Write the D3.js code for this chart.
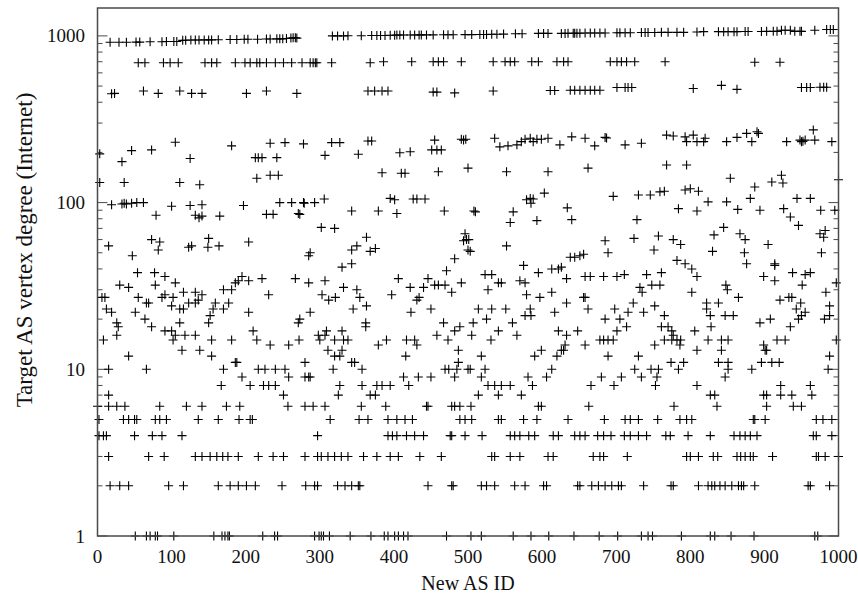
<!DOCTYPE html>
<html>
<head>
<meta charset="utf-8">
<script src="https://d3js.org/d3.v7.min.js"></script>
<style>
  body { margin: 0; background: #fff; }
  svg text { font-family: "Liberation Serif", "Times New Roman", serif; fill: #111; }
</style>
</head>
<body>
<svg id="chart" width="858" height="597"></svg>
<script>
// new AS ids that attached to a target of low integer degree
const deg1 = [51, 66, 71, 78, 81, 103, 157, 168, 172, 176, 178, 223, 239, 243, 293, 299, 302, 305, 313, 341, 369, 387, 392, 401, 406,
  413, 419, 471, 504, 518, 561, 585, 609, 643, 677, 702, 734, 743, 749, 788, 827, 833, 855, 886, 968, 972];
const deg2 = [17, 30, 42, 96, 116, 163, 179, 190, 201, 213, 249, 281, 293, 297, 324, 334, 343, 352, 354,
  446, 478, 480, 518, 525, 536, 563, 577, 602, 606, 648, 651, 667, 676, 685, 694, 703, 707, 737, 774, 777, 811,
  824, 829, 833, 840, 847, 856, 865, 869, 872, 887, 959, 962, 988];
const deg3 = [15, 69, 90, 132, 141, 152, 161, 169, 176, 190, 217, 237, 251, 280, 297, 302, 311, 320, 329, 338, 359, 377, 395, 406,
  435, 464, 532, 536, 557, 570, 608, 615, 669, 678, 683, 715, 795, 800, 811,
  831, 837, 863, 868, 874, 881, 885, 911, 970, 973, 982, 1000];
const deg4 = [2, 8, 12, 50, 74, 87, 114, 297, 392, 398, 404,
  417, 428, 440, 476, 478, 496, 519, 557, 563, 570, 582, 590, 615, 622, 644, 651, 658, 675, 683, 693, 711, 719, 730, 741, 767, 773, 797,
  827, 859, 867, 874, 881, 890, 966, 970, 991];
const deg5 = [2, 35, 42, 50, 53, 78, 84, 93, 136, 163, 191, 206, 209, 314, 353, 365, 392, 404,
  415, 425, 489, 496, 505, 541, 545, 575, 593, 635, 684, 712, 719, 730, 756, 786, 795, 802,
  885, 887, 901, 970, 979, 991];
const deg6 = [0, 15, 26, 37, 84, 120, 141, 174, 192, 257, 280, 291, 307, 356, 389,
  444, 446, 478, 482, 489, 504, 595, 599, 663, 778, 836, 903, 939, 950];
const deg7 = [15, 251, 325, 368, 375, 514, 541, 572, 827, 833, 899, 903, 922, 937, 964];
const deg8 = [167, 206, 224, 231, 240, 327, 357, 377, 384, 395, 420, 527, 536, 545, 557, 587, 666, 697, 753, 809, 922, 962];
const deg9 = [195, 258, 280, 285, 287, 413, 433, 450, 482, 518, 581, 606, 680, 707, 734, 755, 847];

// [new AS id, target degree] for degrees 10 to 60
const lowScatter = [
  [15,55],[84,58],[82,52],[123,54],[127,55],[149,54],[164,55],[204,58],[343,52],[350,55],[375,53],[368,51],[47,48],[287,50],[285,48],[330,41],[343,43],
  [54,38],[77,38],[91,36],[105,33],[30,32],[42,31],[78,32],[195,36],[190,34],[186,33],[181,30],[170,30],[204,34],[222,35],[267,35],[285,33],[307,34],[332,31],[350,30],[406,35],
  [6,27],[10,27],[55,27],[69,25],[66,25],[87,27],[91,28],[102,27],[116,29],[132,29],[141,28],[136,26],[159,25],[177,25],[231,28],[303,28],[312,26],[321,27],[354,27],[363,24],[397,28],
  [12,23],[19,22],[51,22],[64,20],[100,24],[111,23],[116,23],[123,25],[132,25],[156,23],[170,23],[152,21],[204,22],[273,20],[287,22],[271,19],[345,23],[362,19],[362,18],
  [26,19],[28,18],[26,16],[73,18],[91,17],[100,17],[105,16],[111,19],[150,19],[210,17],[309,17],[330,17],[307,16],[298,16],
  [8,15],[102,15],[118,16],[132,16],[154,15],[181,15],[215,15],[233,14],[258,14],[272,15],[300,15],[320,15],[332,15],[338,15],[379,14],[390,15],
  [114,13],[138,13],[154,12],[42,12],[311,13],[330,13],[327,12],[320,12],
  [15,10],[66,10],[170,10],[186,11],[188,11],[217,10],[226,10],[240,10],[253,10],[280,11],[318,10],[343,11],[347,11],[357,10],
  [494,59],[500,52],[503,51],[552,55],[685,59],[689,50],[787,56],[751,52],[482,46],[471,39],[446,35],[460,32],[422,31],[440,31],[455,32],[469,32],[478,29],[491,33],[434,27],[431,26],
  [523,37],[532,37],[541,33],[545,33],[527,30],[575,42],[595,38],[613,40],[622,40],[626,41],[633,35],[638,47],[644,47],[651,48],[656,49],[658,36],[665,36],[683,36],[701,36],[711,37],[741,37],[761,38],[782,45],[793,43],[802,40],[809,36],
  [570,34],[577,33],[579,28],[597,27],[613,29],[633,25],[656,27],[658,27],[662,23],[617,22],[584,23],[577,21],[585,21],[732,31],[735,29],[748,32],[759,32],[802,29],[723,25],[737,22],[716,22],[698,23],[685,20],[705,20],[714,18],[701,17],
  [752,24],[765,21],[761,18],[770,18],[775,17],[777,16],[775,15],[782,15],[786,14],[806,17],
  [423,22],[450,23],[467,19],[458,16],[482,17],[489,18],[507,19],[525,20],[541,17],[560,19],[566,16],[531,15],[514,23],[532,23],[551,23],[505,16],[473,15],[417,15],[428,15],[431,14],
  [622,17],[633,16],[648,17],[658,14],[631,14],[629,13],[678,15],[683,15],[689,15],[696,15],[752,14],[765,15],[787,15],[809,13],
  [416,12],[487,13],[487,11],[518,12],[590,12],[599,13],[620,12],[626,13],[689,12],[730,12],[469,10],[474,10],[485,10],[500,10],[503,10],[523,10],[613,10],[774,11],[791,11],[784,10],[725,10],[747,10],[757,10],
  [905,56],[977,50],[830,51],[873,50],[876,43],[914,43],[914,42],[848,32],[850,30],[865,27],[899,36],[914,34],[938,38],[955,37],[962,38],[951,32],[983,29],[997,33],
  [822,25],[838,25],[822,23],[827,21],[847,21],[858,21],[828,18],[894,19],[908,20],[921,26],[933,27],[937,27],[949,25],[943,23],[955,22],[950,21],[946,20],[981,20],[988,24],[988,21],
  [824,15],[842,15],[851,15],[842,13],[899,14],[901,13],[903,13],[917,15],[928,15],[935,18],[997,15],[838,11],[851,11],[851,10],[883,10],[896,11],[910,11],[920,11],[988,12],[986,10]
];

// [new AS id, target degree] for degrees 60 to 300
const highScatter = [
  [19,97],[33,98],[36,99],[39,98],[46,99],[53,100],[62,100],[100,95],[125,96],[141,97],[197,96],[246,100],[262,100],[278,100],[279,99],[293,100],[306,105],[395,106],[401,104],
  [79,84],[132,84],[137,81],[141,83],[165,83],[228,85],[237,85],[271,86],[273,85],[343,89],[379,89],[404,86],[302,71],[320,70],[73,60],[150,61],[363,62],
  [3,196],[33,176],[46,205],[73,207],[105,230],[125,184],[181,219],[213,186],[217,186],[222,186],[242,186],[233,227],[253,229],[278,225],[307,192],[316,229],[327,229],[352,195],[365,234],[370,234],
  [3,132],[36,132],[111,132],[138,128],[215,140],[233,146],[244,146],[384,151],
  [426,105],[431,105],[442,105],[468,89],[508,89],[510,88],[561,88],[557,76],[579,104],[584,106],[588,105],[585,99],[603,114],[593,78],[634,93],[640,79],[696,109],[730,111],[746,111],
  [759,116],[765,117],[793,119],[800,121],[811,117],[784,92],[809,89],[728,79],[496,65],[498,60],[501,60],[724,61],[757,63],[777,60],
  [408,199],[422,202],[451,207],[458,207],[464,207],[455,237],[491,240],[494,237],[497,240],[536,243],[543,216],[554,219],[566,222],[572,232],[577,240],[584,243],[588,232],[593,240],[599,240],[608,243],
  [624,222],[640,248],[658,243],[671,219],[685,246],[687,244],[712,222],[734,227],[768,254],[777,251],[793,248],[795,232],[804,254],[809,232],
  [410,150],[415,150],[460,153],[500,161],[552,153],[608,153],[662,161],[768,168],[795,168],
  [820,243],[818,232],[849,232],[863,246],[876,260],[883,232],[890,266],[892,260],[930,232],[948,237],[950,232],[952,233],[955,237],[966,273],[968,237],[991,232],
  [854,140],[887,124],[910,133],[923,146],[925,131],[1000,137],
  [824,101],[849,101],[864,91],[881,106],[894,90],[926,92],[944,106],[962,106],[976,90],[995,90],[845,71],[832,64],[867,65],[874,60],[935,82],[946,73],[975,65],[982,68],[980,62]
];

// the three dense hub bands
const band470 = [
  [19,450],[23,452],[62,467],[82,452],[111,467],[127,452],[141,452],[201,452],[228,467],[269,452],[365,467],[374,467],[384,467],[392,467],
  [453,460],[458,460],[482,455],[534,467],[611,470],[617,470],[638,472],[644,472],[651,472],[658,472],[665,472],[671,472],[678,472],
  [701,490],[712,490],[716,490],[721,490],[804,484],[842,505],[863,478],[950,490],[957,490],[962,490],[975,492],[980,492],[984,492]
];
const band700 = [
  [55,690],[64,690],[89,690],[98,690],[109,690],[145,690],[154,690],[161,690],[186,690],[199,690],[206,690],[215,690],[219,690],[228,690],
  [240,690],[251,690],[262,690],[276,690],[287,690],[291,690],[294,690],[296,690],[316,690],[368,690],[386,700],
  [424,700],[453,700],[460,700],[467,700],[491,700],[534,700],[550,700],[557,700],[563,700],[586,700],[595,700],[620,700],[629,700],[635,700],
  [692,700],[701,700],[707,700],[714,700],[725,700],[766,700],[887,695],[921,695]
];
const bandTop = [
  [17,915],[29,915],[39,915],[52,918],[57,918],[71,922],[87,922],[93,925],[103,925],[107,925],[115,940],[119,942],[126,944],[132,944],[137,944],
  [144,946],[150,946],[154,946],[163,948],[179,952],[188,952],[198,955],[203,955],[216,955],[228,958],[233,958],[242,960],[246,960],[250,960],
  [255,965],[261,970],[264,975],[267,975],[269,970],
  [317,1000],[324,1000],[332,1000],[338,1002],[356,1002],[370,1005],[377,1005],[382,1005],[388,1005],[395,1008],[401,1008],
  [404,1012],[408,1012],[413,1012],[422,1012],[428,1012],[434,1014],[437,1014],[444,1014],[453,1014],[467,1015],[473,1015],[480,1015],
  [496,1018],[505,1018],[516,1020],[521,1020],[525,1020],[532,1022],[539,1022],[548,1025],
  [564,1030],[573,1030],[595,1035],[602,1035],[608,1035],[626,1035],[631,1035],[635,1038],[642,1038],[644,1038],[647,1038],[651,1038],
  [658,1040],[665,1040],[671,1040],[678,1040],[685,1040],[701,1045],[705,1045],[712,1045],[719,1045],[734,1048],[739,1048],[743,1048],
  [752,1048],[761,1050],[770,1050],[782,1050],[791,1050],[809,1055],
  [818,1060],[838,1060],[845,1060],[851,1060],[859,1060],[863,1060],[874,1062],[878,1062],[896,1062],[903,1065],[912,1065],[917,1065],
  [923,1080],[928,1080],[935,1080],[941,1065],[948,1065],[950,1065],[968,1080],[984,1092],[989,1092],[993,1092]
];

const xTickValues = [0, 100, 200, 300, 400, 500, 600, 700, 800, 900, 1000];
const yMajorTicks = [1, 10, 100, 1000];

/***** basic setup *****/
const svg = d3.select("#chart");
const margin = {top: 8, left: 97.5, right: 19.5, bottom: 61};
const width = 858, height = 597;

const xScale = d3.scaleLinear()
    .domain([0, 1000])
    .range([margin.left, width - margin.right]);

const yScale = d3.scaleLog()
    .domain([1, 1470])
    .range([height - margin.bottom, margin.top]);

// every degree row goes into one list of points
const points = [];
[deg1, deg2, deg3, deg4, deg5, deg6, deg7, deg8, deg9].forEach((ids, i) => {
    ids.forEach(id => points.push([id, i + 1]));
});
lowScatter.concat(highScatter, band470, band700, bandTop).forEach(p => points.push(p));

/***** frame and y ticks *****/
const frameColor = "#4a4a4a";
const x0 = xScale.range()[0], x1 = xScale.range()[1];

const minorTicks = [];
[1, 10, 100].forEach(dec => {
    for (let k = 2; k <= 9; k++) minorTicks.push(dec * k);
});

const tickG = svg.append("g").attr("class", "yTicks")
    .attr("stroke", frameColor).attr("stroke-width", 1);

[[x0, 1], [x1, -1]].forEach(([xb, dir]) => {
    tickG.selectAll(null)
        .data(yMajorTicks)
        .enter().append("line")
        .attr("x1", xb).attr("x2", xb + dir * 10)
        .attr("y1", d => yScale(d)).attr("y2", d => yScale(d));
    tickG.selectAll(null)
        .data(minorTicks)
        .enter().append("line")
        .attr("x1", xb).attr("x2", xb + dir * 5)
        .attr("y1", d => yScale(d)).attr("y2", d => yScale(d));
});

/***** points *****/
const arm = 4.5;
svg.append("g").attr("class", "points")
    .attr("stroke", "#000").attr("stroke-width", 1.1).attr("fill", "none")
    .selectAll("path")
    .data(points)
    .enter().append("path")
    .attr("d", d => {
        const cx = xScale(d[0]), cy = yScale(d[1]);
        return `M${cx - arm},${cy}H${cx + arm}M${cx},${cy - arm}V${cy + arm}`;
    });

svg.append("rect")
    .attr("x", x0).attr("y", margin.top)
    .attr("width", x1 - x0).attr("height", height - margin.bottom - margin.top)
    .attr("fill", "none").attr("stroke", frameColor).attr("stroke-width", 1.5);

/***** tick labels *****/
svg.append("g").selectAll("text")
    .data(xTickValues)
    .enter().append("text")
    .attr("x", d => xScale(d))
    .attr("y", 563)
    .attr("text-anchor", "middle")
    .style("font-size", "19px")
    .text(d => d);

svg.append("g").selectAll("text")
    .data(yMajorTicks)
    .enter().append("text")
    .attr("x", 85)
    .attr("y", d => yScale(d) + 6.5)
    .attr("text-anchor", "end")
    .style("font-size", "19px")
    .text(d => d);

/***** axis titles *****/
svg.append("text")
    .attr("x", (x0 + x1) / 2)
    .attr("y", 590)
    .attr("text-anchor", "middle")
    .style("font-size", "20px")
    .text("New AS ID");

svg.append("text")
    .attr("transform", "translate(32, 250) rotate(-90)")
    .attr("text-anchor", "middle")
    .style("font-size", "23px")
    .text("Target AS vertex degree (Internet)");
</script>
</body>
</html>
